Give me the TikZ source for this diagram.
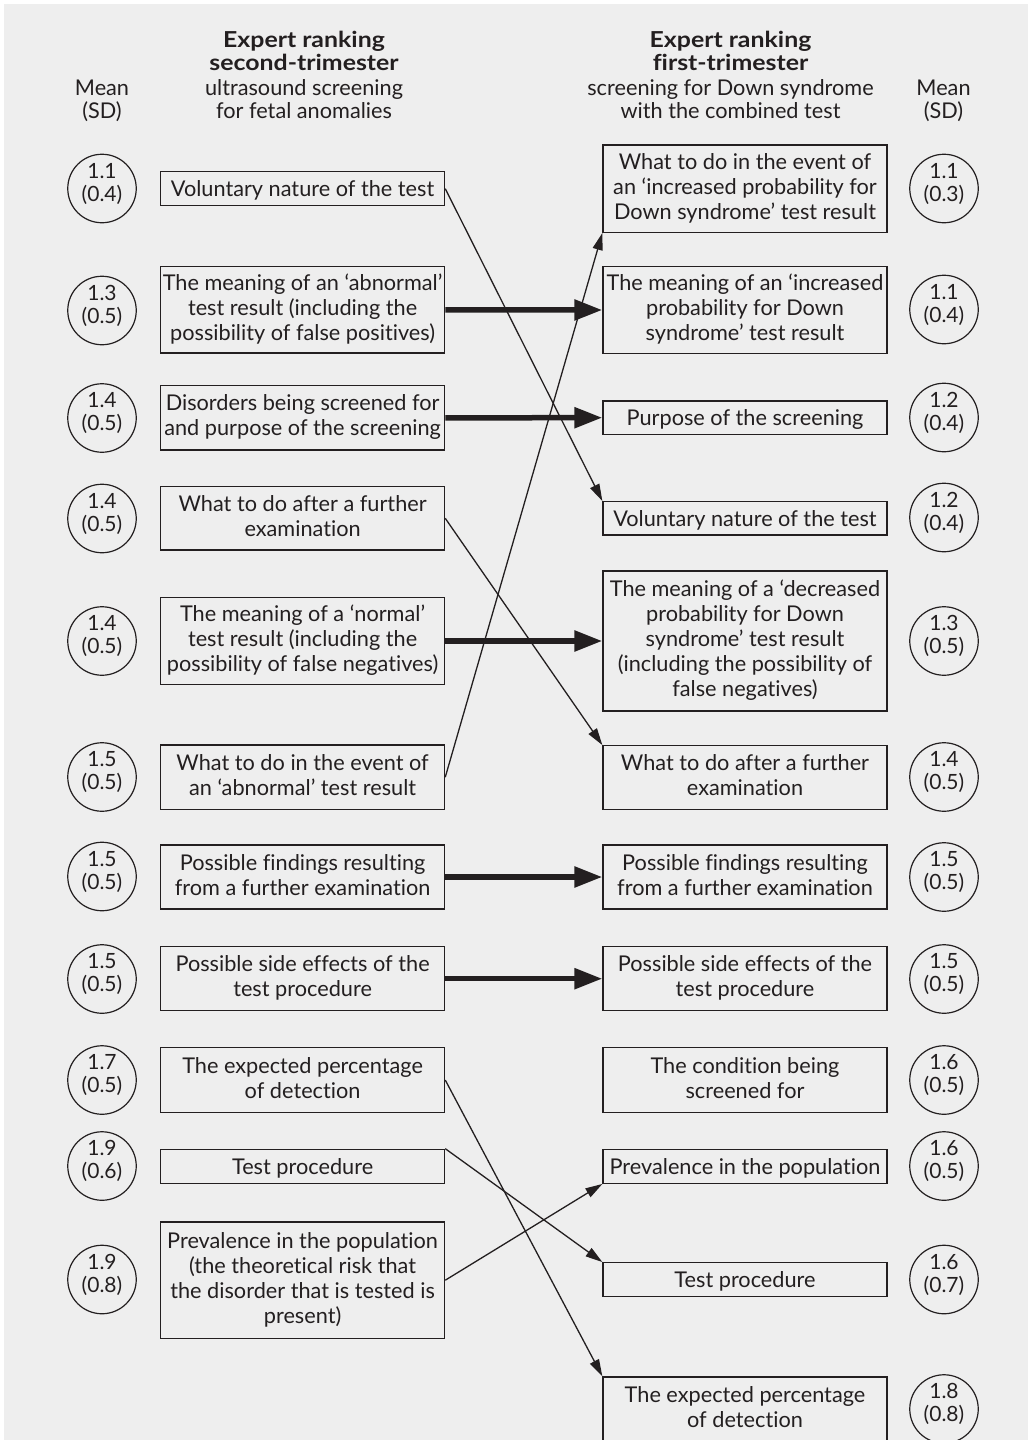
\documentclass[tikz,border=0pt]{standalone}
\usepackage{fontspec}
\setmainfont{Lato}[Ligatures=NoCommon]
\newfontfamily\headfont{Lato}[Ligatures=NoCommon,FakeStretch=1.13]
\usetikzlibrary{arrows.meta}
\definecolor{ink}{RGB}{35,31,32}
\definecolor{bg}{RGB}{238,238,238}
\begin{document}
\begin{tikzpicture}[x=1pt,y=-1pt,
  every node/.style={text=ink},
  bodyf/.style={font=\fontsize{21.7pt}{25pt}\selectfont},
  lbox/.style={draw=ink, line width=1.3pt, minimum width=284pt, inner sep=0pt, align=center, bodyf,
    execute at begin node={\rule{0pt}{21pt}}, execute at end node={\rule[-5pt]{0pt}{5pt}}},
  circ/.style={draw=ink, circle, line width=1.2pt, minimum size=68.5pt, inner sep=0pt},
  ctext/.style={align=center, inner sep=0pt, font=\fontsize{21pt}{23pt}\selectfont},
  head/.style={anchor=base, inner sep=0pt, font=\fontsize{21.7pt}{25pt}\selectfont},
  headb/.style={anchor=base, inner sep=0pt, font=\headfont\bfseries\fontsize{22pt}{25pt}\selectfont},
  thick arrow/.style={draw=ink, line width=5.5pt, -{Triangle[length=28pt,width=20pt]}},
  thin arrow/.style={draw=ink, line width=1.3pt, -{Triangle[length=17pt,width=10pt]}}
]
\useasboundingbox (0,0) rectangle (1028,1440);
\fill[white] (0,0) rectangle (1028,1440);
\fill[bg] (4,4) rectangle (1028,1440);

% headers
\node[head] (hlm) at (102,95) {Mean};
\node[head] (hls) at (102,118.5) {(SD)};
\node[headb] (hl1) at (304,47) {Expert ranking};
\node[headb] (hl2) at (304,70.5) {second-trimester};
\node[head] (hl3) at (304,95) {ultrasound screening};
\node[head] (hl4) at (304,118.5) {for fetal anomalies};
\node[headb] (hr1) at (730.5,47) {Expert ranking};
\node[headb] (hr2) at (730.5,70.5) {first-trimester};
\node[head] (hr3) at (730.5,95) {screening for Down syndrome};
\node[head] (hr4) at (730.5,118.5) {with the combined test};
\node[head] (hrm) at (943.5,95) {Mean};
\node[head] (hrs) at (943.5,118.5) {(SD)};

% left boxes
\node[lbox, minimum height=34pt] (L1) at (302.6,188.7) {Voluntary nature of the test};
\node[lbox, minimum height=86.3pt] (L2) at (302.6,309.8) {The meaning of an ‘abnormal’\\test result (including the\\possibility of false positives)};
\node[lbox, minimum height=64.3pt] (L3) at (302.6,417.8) {Disorders being screened for\\and purpose of the screening};
\node[lbox, minimum height=63.3pt] (L4) at (302.6,518.3) {What to do after a further\\examination};
\node[lbox, minimum height=86.6pt] (L5) at (302.6,641) {The meaning of a ‘normal’\\test result (including the\\possibility of false negatives)};
\node[lbox, minimum height=64.3pt] (L6) at (302.6,777.2) {What to do in the event of\\an ‘abnormal’ test result};
\node[lbox, minimum height=64pt] (L7) at (302.6,877) {Possible findings resulting\\from a further examination};
\node[lbox, minimum height=64pt] (L8) at (302.6,978.7) {Possible side effects of the\\test procedure};
\node[lbox, minimum height=64.6pt] (L9) at (302.6,1080) {The expected percentage\\of detection};
\node[lbox, minimum height=34pt] (L10) at (302.6,1166.3) {Test procedure};
\node[lbox, minimum height=116.3pt] (L11) at (302.6,1280.2) {Prevalence in the population\\(the theoretical risk that\\the disorder that is tested is\\present)};

% right boxes
\node[lbox, minimum height=87.3pt] (R1) at (745,188.7) {What to do in the event of\\an ‘increased probability for\\Down syndrome’ test result};
\node[lbox, minimum height=86.6pt] (R2) at (745,310) {The meaning of an ‘increased\\probability for Down\\syndrome’ test result};
\node[lbox, minimum height=33.3pt] (R3) at (745,417.7) {Purpose of the screening};
\node[lbox, minimum height=33.3pt] (R4) at (745,518.3) {Voluntary nature of the test};
\node[lbox, minimum height=140pt] (R5) at (745,641) {The meaning of a ‘decreased\\probability for Down\\syndrome’ test result\\(including the possibility of\\false negatives)};
\node[lbox, minimum height=63.6pt] (R6) at (745,777.5) {What to do after a further\\examination};
\node[lbox, minimum height=64pt] (R7) at (745,877) {Possible findings resulting\\from a further examination};
\node[lbox, minimum height=64pt] (R8) at (745,978.7) {Possible side effects of the\\test procedure};
\node[lbox, minimum height=64.6pt] (R9) at (745,1080) {The condition being\\screened for};
\node[lbox, minimum height=34pt] (R10) at (745,1166.3) {Prevalence in the population};
\node[lbox, minimum height=34pt] (R11) at (745,1279.7) {Test procedure};
\node[lbox, minimum height=64pt] (R12) at (745,1409) {The expected percentage\\of detection};

% left circles
\foreach \n/\y/\m/\s in {1/188.5/1.1/0.4, 2/310.5/1.3/0.5, 3/418/1.4/0.5, 4/518.5/1.4/0.5, 5/641/1.4/0.5, 6/777/1.5/0.5, 7/876.5/1.5/0.5, 8/979/1.5/0.5, 9/1080/1.7/0.5, 10/1166/1.9/0.6, 11/1279.5/1.9/0.8}{
  \node[circ] (cL\n) at (102,\y) {};
  \node[ctext] (tL\n) at ([yshift=5pt]cL\n.center) {\m\\(\s)};
}
% right circles
\foreach \n/\y/\m/\s in {1/188.5/1.1/0.3, 2/309.5/1.1/0.4, 3/417.5/1.2/0.4, 4/517.5/1.2/0.4, 5/641/1.3/0.5, 6/777/1.4/0.5, 7/877/1.5/0.5, 8/979/1.5/0.5, 9/1080/1.6/0.5, 10/1166/1.6/0.5, 11/1279.5/1.6/0.7, 12/1409/1.8/0.8}{
  \node[circ] (cR\n) at (944,\y) {};
  \node[ctext] (tR\n) at ([yshift=5pt]cR\n.center) {\m\\(\s)};
}

% thick arrows
\draw[thick arrow] (L2.east) -- (R2.west);
\draw[thick arrow] (L3.east) -- (R3.west);
\draw[thick arrow] (L5.east) -- (R5.west);
\draw[thick arrow] (L7.east) -- (R7.west);
\draw[thick arrow] (L8.east) -- (R8.west);

% thin arrows
\draw[thin arrow] (L1.east) -- (R4.north west);
\draw[thin arrow] (L4.east) -- (R6.north west);
\draw[thin arrow] (L6.east) -- (R1.south west);
\draw[thin arrow] (L9.east) -- (R12.north west);
\draw[thin arrow] (L10.north east) -- (R11.north west);
\draw[thin arrow] (L11.east) -- (R10.south west);
\end{tikzpicture}
\end{document}
